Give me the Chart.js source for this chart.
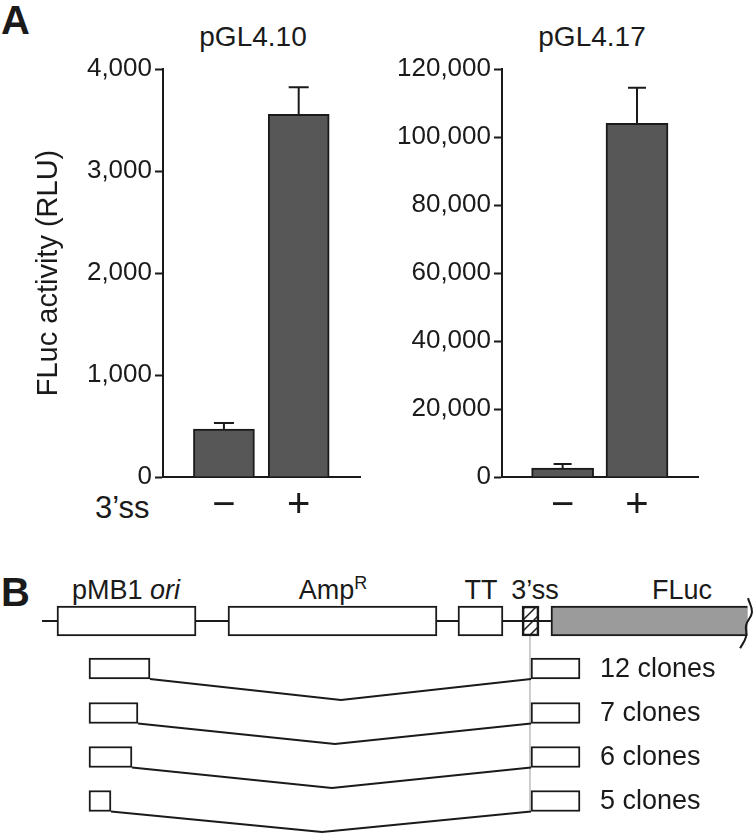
<!DOCTYPE html>
<html>
<head>
<meta charset="utf-8">
<script src="https://cdn.jsdelivr.net/npm/chart.js@4.4.1/dist/chart.umd.min.js"></script>
<style>
  body { margin: 0; background: #fff; font-family: "Liberation Sans", Arial, sans-serif; color: #1a1a1a; }
  #fig { position: relative; width: 756px; height: 833px; overflow: hidden; }
  canvas, .lbl { position: absolute; }
  .lbl { line-height: 1; white-space: nowrap; }
  .c { transform: translateX(-50%); }
  .sup { font-size: 18px; position: relative; top: -10px; }
</style>
</head>
<body>
<div id="fig">
  <div class="lbl" style="left:1px;top:0px;font-size:40px;font-weight:bold">A</div>
  <div class="lbl c" style="left:253px;top:23px;font-size:28px">pGL4.10</div>
  <div class="lbl c" style="left:592px;top:23px;font-size:28px">pGL4.17</div>
  <div class="lbl" style="left:95px;top:492px;font-size:31px">3’ss</div>
  <canvas id="chartLeft" width="380" height="520" style="left:0;top:0"></canvas>
  <canvas id="chartRight" width="376" height="520" style="left:380px;top:0"></canvas>

  <div class="lbl" style="left:1px;top:572px;font-size:40px;font-weight:bold">B</div>
  <div class="lbl c" style="left:126px;top:577px;font-size:27px">pMB1 <i>ori</i></div>
  <div class="lbl c" style="left:333px;top:577px;font-size:27px">Amp<span class="sup">R</span></div>
  <div class="lbl c" style="left:481px;top:577px;font-size:27px">TT</div>
  <div class="lbl c" style="left:535px;top:577px;font-size:27px">3’ss</div>
  <div class="lbl c" style="left:682px;top:577px;font-size:27px">FLuc</div>
  <canvas id="mapChart" width="756" height="273" style="left:0;top:560px"></canvas>
</div>
<script>
// ---- panel A data ----
const splitSite = ['\u2212', '+'];          // 3'ss absent / present
const pGL410 = [470, 3555];
const pGL410Err = [60, 265];
const pGL417 = [2600, 104000];
const pGL417Err = [1200, 10500];

// ---- panel B map (map units along the construct, rows below) ----
const backboneBoxes = [[7.54, 25.93], [30.16, 57.80], [60.58, 66.53]]; // pMB1 ori, AmpR, TT
const spliceBox = [69.05, 71.30];
const flucBox = [72.88, 98.9];
const backboneSpan = [5.56, 72.88];
const cloneLabels = ['12 clones', '7 clones', '6 clones', '5 clones'];
const cloneRows = [1.08, 2.09, 3.09, 4.09];
const donorStart = 11.77;
const donorEnds = [19.84, 18.25, 17.46, 14.68];
const acceptorExon = [70.24, 76.72];
const intronApexX = [45.1, 44.3, 43.9, 42.6];
const intronApexY = [1.795, 2.795, 3.795, 4.795];
const guideX = 70.1;
const cloneLabelX = 79.37;

const ink = '#1a1a1a';
const FONT = '"Liberation Sans", Arial, sans-serif';
Chart.defaults.font.family = FONT;
Chart.defaults.color = ink;

function errorBars(errors, capWidth) {
  return {
    id: 'errorBars',
    afterDatasetsDraw(chart) {
      const { ctx, scales: { y } } = chart;
      const meta = chart.getDatasetMeta(0);
      const data = chart.data.datasets[0].data;
      ctx.save();
      ctx.strokeStyle = ink;
      ctx.lineWidth = 2;
      meta.data.forEach((bar, i) => {
        const top = y.getPixelForValue(data[i].y + errors[i]);
        ctx.beginPath();
        ctx.moveTo(bar.x, bar.y);
        ctx.lineTo(bar.x, top);
        ctx.moveTo(bar.x - capWidth / 2, top);
        ctx.lineTo(bar.x + capWidth / 2, top);
        ctx.stroke();
      });
      ctx.restore();
    }
  };
}

function barChart(id, values, errors, yMax, yStep, axisWidth, padRight, barWidth, capWidth, yTitle) {
  return new Chart(document.getElementById(id), {
    type: 'bar',
    data: {
      datasets: [{
        data: values.map((v, i) => ({ x: i, y: v })),
        backgroundColor: '#575757',
        borderColor: ink,
        borderWidth: 2,
        borderSkipped: 'bottom',
        barThickness: barWidth
      }]
    },
    options: {
      responsive: false,
      animation: false,
      layout: { padding: { top: 69, right: padRight, left: 0, bottom: 0 } },
      plugins: { legend: { display: false }, tooltip: { enabled: false } },
      scales: {
        x: {
          type: 'linear', min: -0.815, max: 1.82, offset: false,
          afterBuildTicks: s => { s.ticks = splitSite.map((c, i) => ({ value: i })); },
          afterFit: s => { s.height = 43; },
          ticks: { callback: v => splitSite[v], font: { size: 40 }, color: ink, padding: 5, autoSkip: false, maxRotation: 0 },
          grid: { display: true, drawOnChartArea: false, drawTicks: false, offset: false },
          border: { color: ink, width: 2 }
        },
        y: {
          min: 0, max: yMax,
          afterFit: s => { s.width = axisWidth; },
          ticks: { stepSize: yStep, callback: v => v.toLocaleString('en-US'), font: { size: 26 }, color: ink, padding: 3 },
          grid: { drawOnChartArea: false, tickLength: 8, tickColor: ink, tickWidth: 2 },
          border: { color: ink, width: 2 },
          title: yTitle
            ? { display: true, text: yTitle, font: { size: 29 }, color: ink, padding: { top: 32, bottom: 0 } }
            : { display: false }
        }
      }
    },
    plugins: [errorBars(errors, capWidth)]
  });
}

barChart('chartLeft', pGL410, pGL410Err, 4000, 1000, 163, 20, 61, 20, 'FLuc activity (RLU)');
barChart('chartRight', pGL417, pGL417Err, 120000, 20000, 122, 58, 62, 18, null);

// ---- panel B ----
const hatch = (() => {
  const c = document.createElement('canvas');
  c.width = 11; c.height = 11;
  const g = c.getContext('2d');
  g.strokeStyle = ink; g.lineWidth = 1.5;
  g.beginPath();
  g.moveTo(0, 11); g.lineTo(11, 0);
  g.moveTo(-2, 2); g.lineTo(2, -2);
  g.moveTo(9, 13); g.lineTo(13, 9);
  g.stroke();
  const p = document.createElement('canvas').getContext('2d');
  return p.createPattern(c, 'repeat');
})();

const boxSet = (data, thickness, fill, extra = {}) => Object.assign({
  type: 'bar', indexAxis: 'y', stack: 'map', data,
  barThickness: thickness, backgroundColor: fill,
  borderColor: ink, borderWidth: 2, borderSkipped: false, order: 1
}, extra);

const lineSet = (points, color, width, order, extra = {}) => Object.assign({
  type: 'line', data: points, borderColor: color, borderWidth: width,
  pointRadius: 0, fill: false, tension: 0, order, clip: false
}, extra);

const exonHalf = 0.24;
const mapDatasets = [
  lineSet([{ x: backboneSpan[0], y: 0 }, { x: backboneSpan[1], y: 0 }], ink, 2, 3),
  lineSet([{ x: guideX, y: 0.34 }, { x: guideX, y: 4.3 }], '#bdbdbd', 1.5, 3),
  ...cloneRows.map((r, i) => lineSet([
    { x: donorEnds[i], y: r + exonHalf },
    { x: intronApexX[i], y: intronApexY[i] },
    { x: acceptorExon[0], y: r + exonHalf }
  ], ink, 2, 2)),
  boxSet(backboneBoxes.map(b => ({ y: 0, x: b })), 30, '#fff'),
  boxSet([{ y: 0, x: flucBox }], 30, '#9b9b9b', { borderSkipped: 'right' }),
  boxSet([{ y: 0, x: spliceBox }], 30, hatch),
  boxSet(cloneRows.flatMap((r, i) => [{ y: r, x: [donorStart, donorEnds[i]] }, { y: r, x: acceptorExon }]), 21, '#fff'),
  lineSet([{ x: 98.94, y: -0.52 }, { x: 99.47, y: -0.2 }, { x: 98.7, y: 0.09 }, { x: 98.68, y: 0.36 }, { x: 97.9, y: 0.62 }],
    ink, 2, 0, { tension: 0.4 })
];

const cloneText = {
  id: 'cloneText',
  afterDatasetsDraw(chart) {
    const { ctx, scales: { x, y } } = chart;
    ctx.save();
    ctx.font = '27px ' + FONT;
    ctx.fillStyle = ink;
    ctx.textBaseline = 'middle';
    cloneLabels.forEach((t, i) => ctx.fillText(t, x.getPixelForValue(cloneLabelX), y.getPixelForValue(cloneRows[i]) + 1));
    ctx.restore();
  }
};

new Chart(document.getElementById('mapChart'), {
  type: 'bar',
  data: { datasets: mapDatasets },
  options: {
    responsive: false,
    animation: false,
    layout: { padding: 0 },
    plugins: { legend: { display: false }, tooltip: { enabled: false } },
    scales: {
      x: { type: 'linear', display: false, min: 0, max: 100, offset: false, stacked: false },
      y: { type: 'linear', display: false, min: -1.386, max: 4.818, reverse: true, offset: false }
    }
  },
  plugins: [cloneText]
});
</script>
</body>
</html>
